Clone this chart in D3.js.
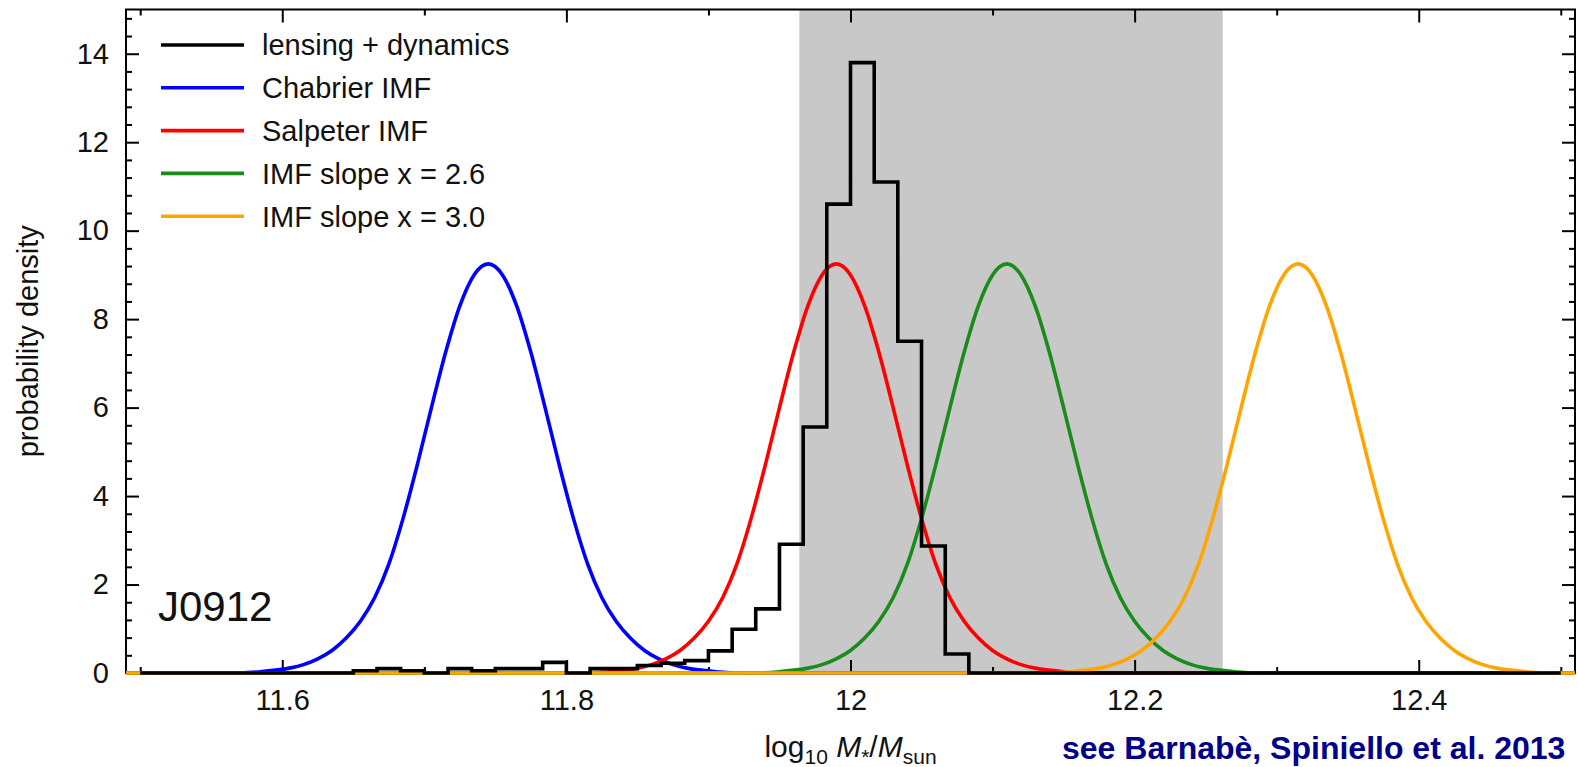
<!DOCTYPE html>
<html>
<head>
<meta charset="utf-8">
<script src="https://cdn.jsdelivr.net/npm/d3@7"></script>
<style>
  html, body { margin: 0; padding: 0; background: #fff; }
  svg { display: block; font-family: "Liberation Sans", Arial, Helvetica, sans-serif; }
</style>
</head>
<body>
<div id="chart"></div>
<script>
// x ticks / y ticks
var xMajor = [11.6, 11.8, 12, 12.2, 12.4]
var xMinor = [11.5, 11.7, 11.9, 12.1, 12.3, 12.5]
var yMajor = [0, 2, 4, 6, 8, 10, 12, 14]
var yMinor = [0.4, 0.8, 1.2, 1.6, 2.4, 2.8, 3.2, 3.6, 4.4, 4.8, 5.2, 5.6, 6.4, 6.8, 7.2, 7.6,
  8.4, 8.8, 9.2, 9.6, 10.4, 10.8, 11.2, 11.6, 12.4, 12.8, 13.2, 13.6, 14.4, 14.8]

// shaded band
var band = [11.964, 12.262]

// lensing + dynamics histogram (bin left edge, density)
var histX = [11.5, 11.65, 11.6667, 11.6833, 11.7, 11.7167, 11.7333, 11.75, 11.7667, 11.7833, 11.8,
  11.8167, 11.8333, 11.85, 11.8667, 11.8833, 11.9, 11.9167, 11.9333, 11.95, 11.9667, 11.9833,
  12.0, 12.0167, 12.0333, 12.05, 12.0667, 12.0833, 12.5]
var histY = [0, 0.05, 0.1, 0.05, 0, 0.1, 0.05, 0.1, 0.1, 0.24, 0,
  0.1, 0.1, 0.17, 0.22, 0.28, 0.5, 0.99, 1.45, 2.91, 5.56, 10.6,
  13.8, 11.1, 7.5, 2.87, 0.43, 0, 0]

// Chabrier IMF
var chabX = [11.49, 11.565, 11.585, 11.605, 11.615, 11.625, 11.635, 11.645, 11.655, 11.665, 11.675, 11.685,
  11.695, 11.705, 11.715, 11.725, 11.735, 11.745, 11.755, 11.765, 11.775, 11.785, 11.795, 11.805, 11.815,
  11.825, 11.835, 11.845, 11.855, 11.865, 11.875, 11.885, 11.905, 11.925, 12.51]
var chabY = [0, 0, 0.03, 0.11, 0.19, 0.32, 0.51, 0.79, 1.17, 1.70, 2.46, 3.49,
  4.70, 6.00, 7.25, 8.30, 9.00, 9.25, 9.00, 8.30, 7.25, 6.00, 4.70, 3.49, 2.46,
  1.70, 1.17, 0.79, 0.51, 0.32, 0.19, 0.11, 0.03, 0, 0]

// Salpeter IMF
var salpX = [11.49, 11.81, 11.83, 11.85, 11.86, 11.87, 11.88, 11.89, 11.90, 11.91, 11.92, 11.93,
  11.94, 11.95, 11.96, 11.97, 11.98, 11.99, 12.00, 12.01, 12.02, 12.03, 12.04, 12.05, 12.06,
  12.07, 12.08, 12.09, 12.10, 12.11, 12.12, 12.13, 12.15, 12.17, 12.51]
var salpY = [0, 0, 0.03, 0.11, 0.19, 0.32, 0.51, 0.79, 1.17, 1.70, 2.46, 3.49,
  4.70, 6.00, 7.25, 8.30, 9.00, 9.25, 9.00, 8.30, 7.25, 6.00, 4.70, 3.49, 2.46,
  1.70, 1.17, 0.79, 0.51, 0.32, 0.19, 0.11, 0.03, 0, 0]

// IMF slope x = 2.6
var s26X = [11.49, 11.93, 11.95, 11.97, 11.98, 11.99, 12.00, 12.01, 12.02, 12.03, 12.04, 12.05,
  12.06, 12.07, 12.08, 12.09, 12.10, 12.11, 12.12, 12.13, 12.14, 12.15, 12.16, 12.17, 12.18,
  12.19, 12.20, 12.21, 12.22, 12.23, 12.24, 12.25, 12.27, 12.29, 12.51]
var s26Y = [0, 0, 0.03, 0.11, 0.19, 0.32, 0.51, 0.79, 1.17, 1.70, 2.46, 3.49,
  4.70, 6.00, 7.25, 8.30, 9.00, 9.25, 9.00, 8.30, 7.25, 6.00, 4.70, 3.49, 2.46,
  1.70, 1.17, 0.79, 0.51, 0.32, 0.19, 0.11, 0.03, 0, 0]

// IMF slope x = 3.0
var s30X = [11.49, 12.135, 12.155, 12.175, 12.185, 12.195, 12.205, 12.215, 12.225, 12.235, 12.245, 12.255,
  12.265, 12.275, 12.285, 12.295, 12.305, 12.315, 12.325, 12.335, 12.345, 12.355, 12.365, 12.375, 12.385,
  12.395, 12.405, 12.415, 12.425, 12.435, 12.445, 12.455, 12.475, 12.495, 12.51]
var s30Y = [0, 0, 0.03, 0.11, 0.19, 0.32, 0.51, 0.79, 1.17, 1.70, 2.46, 3.49,
  4.70, 6.00, 7.25, 8.30, 9.00, 9.25, 9.00, 8.30, 7.25, 6.00, 4.70, 3.49, 2.46,
  1.70, 1.17, 0.79, 0.51, 0.32, 0.19, 0.11, 0.03, 0, 0]

var legendLabels = ['lensing + dynamics', 'Chabrier IMF', 'Salpeter IMF', 'IMF slope x = 2.6', 'IMF slope x = 3.0']
var legendColors = ['#000000', '#0000ff', '#ff0000', '#1a8c1a', '#ffa500']

var w = 1578
var h = 767
var m = { left: 126, right: 1575, top: 9.5, bottom: 673 }

var svg = d3.select('#chart')
  .append('svg')
  .attr('width', w)
  .attr('height', h)

svg.append('rect').attr('width', w).attr('height', h).attr('fill', '#fff')

var x = d3.scaleLinear().domain([11.49, 12.51]).range([m.left, m.right])
var y = d3.scaleLinear().domain([0, 15]).range([m.bottom, m.top])

svg.append('defs').append('clipPath').attr('id', 'clip')
  .append('rect')
  .attr('x', m.left - 2).attr('y', m.top)
  .attr('width', m.right - m.left + 4).attr('height', m.bottom - m.top + 2)

// grey band
svg.append('rect')
  .attr('x', x(band[0]))
  .attr('y', m.top)
  .attr('width', x(band[1]) - x(band[0]))
  .attr('height', m.bottom - m.top)
  .attr('fill', '#c8c8c8')

// axes, ticks pointing inward on all sides
function styleAxis (g) {
  g.select('.domain').remove()
  g.selectAll('line').attr('stroke', '#000').attr('stroke-width', 2)
  g.selectAll('text').attr('font-size', 29).attr('fill', '#111')
    .attr('font-family', '"Liberation Sans", Arial, sans-serif')
}
var fmt = function (d) { return String(d) }

svg.append('g').attr('transform', 'translate(0,' + m.bottom + ')')
  .call(d3.axisBottom(x).tickValues(xMajor).tickSize(-13).tickPadding(16).tickFormat(fmt))
  .call(styleAxis)
svg.append('g').attr('transform', 'translate(0,' + m.bottom + ')')
  .call(d3.axisBottom(x).tickValues(xMinor).tickSize(-6).tickFormat(''))
  .call(styleAxis)
svg.append('g').attr('transform', 'translate(0,' + m.top + ')')
  .call(d3.axisTop(x).tickValues(xMajor).tickSize(-13).tickFormat(''))
  .call(styleAxis)
svg.append('g').attr('transform', 'translate(0,' + m.top + ')')
  .call(d3.axisTop(x).tickValues(xMinor).tickSize(-6).tickFormat(''))
  .call(styleAxis)

svg.append('g').attr('transform', 'translate(' + m.left + ',0)')
  .call(d3.axisLeft(y).tickValues(yMajor).tickSize(-13).tickPadding(17).tickFormat(fmt))
  .call(styleAxis)
svg.append('g').attr('transform', 'translate(' + m.left + ',0)')
  .call(d3.axisLeft(y).tickValues(yMinor).tickSize(-6).tickFormat(''))
  .call(styleAxis)
svg.append('g').attr('transform', 'translate(' + m.right + ',0)')
  .call(d3.axisRight(y).tickValues(yMajor).tickSize(-13).tickFormat(''))
  .call(styleAxis)
svg.append('g').attr('transform', 'translate(' + m.right + ',0)')
  .call(d3.axisRight(y).tickValues(yMinor).tickSize(-6).tickFormat(''))
  .call(styleAxis)

svg.append('rect')
  .attr('x', m.left).attr('y', m.top)
  .attr('width', m.right - m.left).attr('height', m.bottom - m.top)
  .attr('fill', 'none').attr('stroke', '#000').attr('stroke-width', 2)

// model curves
var line = d3.line()
  .x(function (d) { return x(d[0]) })
  .y(function (d) { return y(d[1]) })
  .curve(d3.curveMonotoneX)

var curves = [[chabX, chabY, legendColors[1]], [salpX, salpY, legendColors[2]],
  [s26X, s26Y, legendColors[3]], [s30X, s30Y, legendColors[4]]]
var plotArea = svg.append('g').attr('clip-path', 'url(#clip)')
for (let c of curves) {
  let pts = c[0].map(function (v, i) { return [v, c[1][i]] })
  plotArea.append('path')
    .attr('d', line(pts))
    .attr('fill', 'none')
    .attr('stroke', c[2])
    .attr('stroke-width', 3.6)
}

// histogram outline
var step = d3.line()
  .x(function (d) { return x(d[0]) })
  .y(function (d) { return y(d[1]) })
  .curve(d3.curveStepAfter)
var histPts = histX.map(function (v, i) { return [v, histY[i]] })
plotArea.append('path')
  .attr('d', step(histPts))
  .attr('fill', 'none')
  .attr('stroke', '#000')
  .attr('stroke-width', 3.6)
  .attr('stroke-linejoin', 'miter')

// legend
var legend = svg.append('g')
legendLabels.forEach(function (lab, i) {
  let ly = 45 + i * 42.8
  legend.append('line')
    .attr('x1', 161).attr('x2', 244)
    .attr('y1', ly).attr('y2', ly)
    .attr('stroke', legendColors[i]).attr('stroke-width', 3.6)
  legend.append('text')
    .attr('x', 262).attr('y', ly)
    .attr('dy', '0.36em')
    .attr('font-size', 29)
    .attr('fill', '#111')
    .text(lab)
})

// object name
svg.append('text')
  .attr('x', 158).attr('y', 621)
  .attr('font-size', 42)
  .attr('fill', '#111')
  .text('J0912')

// axis titles
svg.append('text')
  .attr('transform', 'translate(38,' + ((m.top + m.bottom) / 2) + ') rotate(-90)')
  .attr('text-anchor', 'middle')
  .attr('font-size', 29)
  .attr('fill', '#111')
  .text('probability density')

var xt = svg.append('text')
  .attr('x', x(12)).attr('y', 757)
  .attr('text-anchor', 'middle')
  .attr('font-size', 30)
  .attr('fill', '#111')
xt.append('tspan').text('log')
xt.append('tspan').attr('dy', 7).attr('font-size', 21).text('10')
xt.append('tspan').attr('dy', -7).attr('font-style', 'italic').text(' M')
xt.append('tspan').attr('dy', 7).attr('font-size', 21).text('*')
xt.append('tspan').attr('dy', -7).text('/')
xt.append('tspan').attr('font-style', 'italic').text('M')
xt.append('tspan').attr('dy', 7).attr('font-size', 21).text('sun')

// citation line
svg.append('text')
  .attr('x', 1062).attr('y', 759)
  .attr('font-size', 32)
  .attr('font-weight', 'bold')
  .attr('fill', '#00008b')
  .text('see Barnabè, Spiniello et al. 2013')
</script>
</body>
</html>
